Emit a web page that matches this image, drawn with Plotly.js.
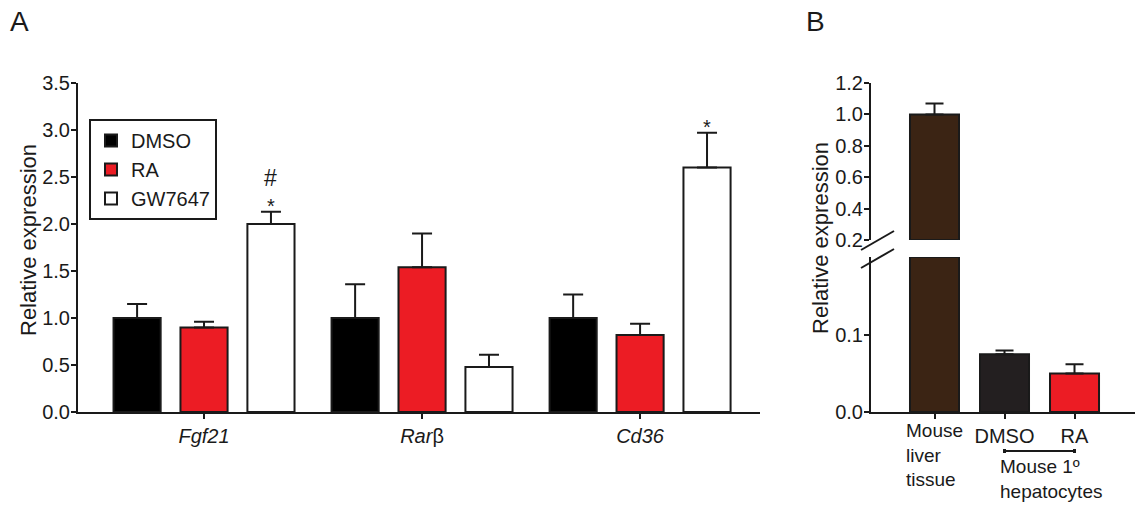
<!DOCTYPE html>
<html><head><meta charset="utf-8">
<script src="https://cdn.plot.ly/plotly-3.0.1.min.js"></script>
<style>html,body{margin:0;padding:0;background:#fff;}#chart{width:1135px;height:505px;}</style>
</head><body><div id="chart"></div>
<script>
// ---------- Panel A data ----------
const genes = ["Fgf21", "Rarb", "Cd36"];
const geneLabels = ["<i>Fgf21</i>", "<i>Rar</i>β", "<i>Cd36</i>"];
const seriesNames = ["DMSO", "RA", "GW7647"];
const dmsoA = [1.00, 1.00, 1.00];
const dmsoAErr = [0.15, 0.36, 0.25];
const raA = [0.90, 1.54, 0.82];
const raAErr = [0.06, 0.36, 0.12];
const gwA = [2.00, 0.48, 2.60];
const gwAErr = [0.13, 0.13, 0.37];
const yTicksA = [0, 0.5, 1.0, 1.5, 2.0, 2.5, 3.0, 3.5];
const yTitle = "Relative expression";
const marksA = [{gene: "Fgf21", text: "*"}, {gene: "Fgf21", text: "#"}, {gene: "Cd36", text: "*"}];

// ---------- Panel B data ----------
const samplesB = ["Mouse liver tissue", "DMSO", "RA"];
const labelsB = ["Mouse<br>liver<br>tissue", "DMSO", "RA"];
const groupLabelB = "Mouse 1º<br>hepatocytes";
const valuesB = [1.00, 0.075, 0.050];
const errorsB = [0.07, 0.005, 0.012];
const yTicksBLow = [0, 0.1];
const yTicksBHigh = [0.2, 0.4, 0.6, 0.8, 1.0, 1.2];
const breakB = 0.2;

// ---------- layout constants ----------
const W = 1135, H = 505;
const FONT = "Liberation Sans, Arial, sans-serif";
const INK = "#1a1a1a";
const BARGAP = 0.079, BARGROUPGAP = 0.296;
const px = v => v / W;
const py = v => 1 - v / H;
const lowTop = 0.2015;

function errA(arr) {
  return {type: "data", symmetric: false, array: arr, arrayminus: arr.map(() => 0),
          color: INK, thickness: 2, width: 10};
}
const barLine = {color: INK, width: 2};

const traces = [
  {type: "bar", name: seriesNames[0], x: genes, y: dmsoA, error_y: errA(dmsoAErr),
   marker: {color: "#000000", line: barLine}, xaxis: "x", yaxis: "y"},
  {type: "bar", name: seriesNames[1], x: genes, y: raA, error_y: errA(raAErr),
   marker: {color: "#ec1c24", line: barLine}, xaxis: "x", yaxis: "y"},
  {type: "bar", name: seriesNames[2], x: genes, y: gwA, error_y: errA(gwAErr),
   marker: {color: "#ffffff", line: barLine}, xaxis: "x", yaxis: "y"},
  // Panel B lower segment
  {type: "bar", x: samplesB, y: valuesB.map(v => Math.min(v, lowTop)), width: 0.7, showlegend: false,
   error_y: {type: "data", symmetric: false,
             array: errorsB.map((e, i) => valuesB[i] > breakB ? null : e),
             arrayminus: errorsB.map(() => 0), color: INK, thickness: 2, width: 9},
   marker: {color: ["#3b2414", "#231f20", "#ec1c24"], line: barLine}, xaxis: "x2", yaxis: "y2"},
  // Panel B upper segment (only values above the break)
  {type: "bar", x: samplesB.filter((s, i) => valuesB[i] > breakB),
   y: valuesB.filter(v => v > breakB).map(v => v - breakB), base: breakB, width: 0.7, showlegend: false,
   error_y: {type: "data", symmetric: false, array: errorsB.filter((e, i) => valuesB[i] > breakB),
             arrayminus: [0], color: INK, thickness: 2, width: 9},
   marker: {color: "#3b2414", line: barLine}, xaxis: "x2", yaxis: "y3"}
];

const gwOffset = (1 - BARGAP) / 3;
const valTop = {};
genes.forEach((g, i) => valTop[g] = gwA[i] + gwAErr[i]);

const annotations = [
  {text: "A", xref: "paper", yref: "paper", x: px(8), y: py(4), xanchor: "left", yanchor: "top",
   showarrow: false, font: {size: 28, color: INK}},
  {text: "B", xref: "paper", yref: "paper", x: px(804), y: py(4), xanchor: "left", yanchor: "top",
   showarrow: false, font: {size: 28, color: INK}},
  {text: yTitle, xref: "paper", yref: "paper", x: px(28), y: py(240), xanchor: "center", yanchor: "middle",
   textangle: -90, showarrow: false, font: {size: 22, color: INK}},
  {text: yTitle, xref: "paper", yref: "paper", x: px(820), y: py(238), xanchor: "center", yanchor: "middle",
   textangle: -90, showarrow: false, font: {size: 22, color: INK}},
  {text: labelsB[0], xref: "x2", yref: "paper", x: 0, y: py(419), xanchor: "center", yanchor: "top",
   align: "left", showarrow: false, font: {size: 19, color: INK}, borderpad: 0},
  {text: groupLabelB, xref: "x2", yref: "paper", x: 1.5, xshift: 11, y: py(455), xanchor: "center", yanchor: "top",
   align: "left", showarrow: false, font: {size: 19, color: INK}, borderpad: 0}
];
marksA.forEach(m => {
  const gi = genes.indexOf(m.gene);
  const isHash = m.text === "#";
  annotations.push({text: m.text, xref: "x", yref: "y", x: gi + gwOffset, y: valTop[m.gene],
    xanchor: "center", yanchor: "bottom", showarrow: false, borderpad: 0,
    yshift: isHash ? 20 : -6, font: {size: isHash ? 23 : 20, color: INK}});
});

const shapes = [
  // axis break slashes
  {type: "line", xref: "paper", yref: "paper", x0: px(861), y0: py(250), x1: px(894), y1: py(231), line: {color: INK, width: 2}},
  {type: "line", xref: "paper", yref: "paper", x0: px(861), y0: py(268), x1: px(894), y1: py(249), line: {color: INK, width: 2}},
  // bracket under DMSO / RA
  {type: "line", xref: "x2", yref: "paper", x0: 1, x1: 2, y0: py(451), y1: py(451), line: {color: INK, width: 2}},
  {type: "line", xref: "x2", yref: "paper", x0: 1, x1: 1, y0: py(449), y1: py(453), line: {color: INK, width: 3}},
  {type: "line", xref: "x2", yref: "paper", x0: 2, x1: 2, y0: py(449), y1: py(453), line: {color: INK, width: 3}}
];

const axisCommon = {showgrid: false, zeroline: false, showline: true, linecolor: INK, linewidth: 2,
  ticks: "outside", ticklen: 5, tickwidth: 2, tickcolor: INK, tickfont: {size: 20, color: INK, family: FONT}};
const yAxisExtra = {ticklabelstandoff: -3};

const layout = {
  width: W, height: H, margin: {l: 0, r: 0, t: 0, b: 0},
  paper_bgcolor: "#ffffff", plot_bgcolor: "rgba(0,0,0,0)",
  font: {family: FONT, color: INK},
  barmode: "group", bargap: BARGAP, bargroupgap: BARGROUPGAP,
  showlegend: true,
  legend: {x: px(89), y: py(119), xanchor: "left", yanchor: "top", bgcolor: "#ffffff",
           bordercolor: INK, borderwidth: 2, font: {size: 20, color: INK}, traceorder: "normal"},
  xaxis: Object.assign({}, axisCommon, {domain: [px(78), px(760)], anchor: "y", type: "category",
           range: [-0.578, 2.55], tickvals: genes, ticktext: geneLabels}),
  yaxis: Object.assign({}, axisCommon, yAxisExtra, {domain: [1 - 412 / H, 1 - 83 / H], anchor: "x", range: [0, 3.5],
           tickvals: yTicksA, tickformat: ".1f"}),
  xaxis2: Object.assign({}, axisCommon, {domain: [px(871), 1], anchor: "y2", type: "category",
           range: [-0.907, 2.864], tickvals: samplesB, ticktext: labelsB.map((l, i) => i === 0 ? "" : l)}),
  yaxis2: Object.assign({}, axisCommon, yAxisExtra, {domain: [1 - 412 / H, 1 - 257 / H], anchor: "x2", range: [0, lowTop],
           tickvals: yTicksBLow, tickformat: ".1f"}),
  yaxis3: Object.assign({}, axisCommon, yAxisExtra, {domain: [1 - 240 / H, 1 - 83 / H], anchor: "x2", range: [breakB, 1.2],
           tickvals: yTicksBHigh, tickformat: ".1f"}),
  annotations: annotations,
  shapes: shapes
};

Plotly.newPlot("chart", traces, layout, {displayModeBar: false, staticPlot: true});
</script>
</body></html>
